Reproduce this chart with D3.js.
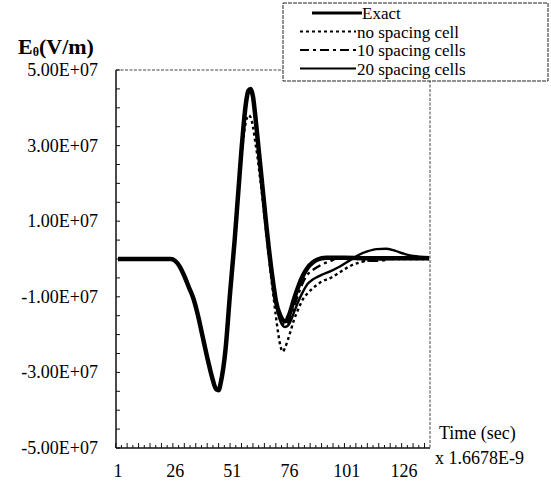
<!DOCTYPE html>
<html><head><meta charset="utf-8">
<script src="https://cdn.jsdelivr.net/npm/d3@7"></script>
<style>body{margin:0;background:#fff}svg{display:block}</style>
</head><body><svg id="c" width="551" height="494"></svg>
<script>
// values in units of 1e7 V/m, time in steps
const exactT = [1,10,20,24,26,28,30,32,34,36,38,40,42,44,45,46,48,50,51,52,53,54,55,56,57,58,59,60,61,62,63,64,65,66,67,68,69,70,72,74,76,78,80,82,84,86,88,92,100,110,120,137];
const exactV = [0,0,0,0,-0.05,-0.2,-0.45,-0.75,-1.05,-1.5,-2.05,-2.6,-3.1,-3.45,-3.47,-3.25,-2.4,-0.9,-0.2,0.5,1.3,2.1,2.9,3.6,4.15,4.45,4.5,4.3,3.8,3.2,2.6,2.0,1.4,0.8,0.25,-0.25,-0.7,-1.1,-1.5,-1.65,-1.45,-1.05,-0.7,-0.42,-0.22,-0.1,-0.02,0.03,0.03,0.02,0.02,0.02];

const noSpT = [1,20,24,28,32,36,40,44,45,46,48,50,52,54,55,56,57,58,59,60,61,62,63,64,65,66,67,68,69,70,71,72,73,74,76,78,80,82,84,86,88,90,94,98,102,106,110,120,137];
const noSpV = [0,0,0,-0.2,-0.75,-1.5,-2.6,-3.45,-3.47,-3.25,-2.4,-0.9,0.5,2.0,2.7,3.3,3.65,3.8,3.75,3.5,3.1,2.7,2.2,1.7,1.15,0.6,0.05,-0.5,-1.0,-1.5,-1.95,-2.3,-2.45,-2.35,-2.0,-1.6,-1.3,-1.05,-0.9,-0.78,-0.68,-0.6,-0.5,-0.35,-0.2,-0.1,-0.05,0.0,0.0];

const sp10T = [1,20,24,28,32,36,40,44,45,46,48,50,52,54,56,58,59,60,62,64,66,68,70,72,74,76,78,80,82,84,86,88,90,94,98,102,106,110,115,120,128,137];
const sp10V = [0,0,0,-0.2,-0.75,-1.5,-2.6,-3.45,-3.47,-3.25,-2.4,-0.9,0.5,2.1,3.6,4.4,4.45,4.25,3.15,1.95,0.75,-0.3,-1.15,-1.6,-1.75,-1.6,-1.25,-0.9,-0.6,-0.4,-0.3,-0.22,-0.15,-0.05,0.05,0.05,0.0,-0.05,-0.05,0.0,0.05,0.05];

const sp20T = [1,20,24,28,32,36,40,44,45,46,48,50,52,54,56,58,59,60,62,64,66,68,70,72,74,76,78,80,82,84,86,88,90,94,98,102,106,110,114,118,122,126,130,137];
const sp20V = [0,0,0,-0.2,-0.75,-1.5,-2.6,-3.45,-3.47,-3.25,-2.4,-0.9,0.5,2.1,3.6,4.4,4.45,4.25,3.15,1.95,0.75,-0.3,-1.15,-1.65,-1.8,-1.7,-1.4,-1.1,-0.85,-0.65,-0.55,-0.48,-0.42,-0.32,-0.2,-0.05,0.1,0.2,0.26,0.27,0.22,0.14,0.08,0.05];

const yTickLabels = ["5.00E+07","3.00E+07","1.00E+07","-1.00E+07","-3.00E+07","-5.00E+07"];
const yTickValues = [5,3,1,-1,-3,-5];
const xTickLabels = ["1","26","51","76","101","126"];
const xTickValues = [1,26,51,76,101,126];
const legendNames = ["Exact","no spacing cell","10 spacing cells","20 spacing cells"];

const svg = d3.select("#c");
const FF = "'Liberation Serif'";
const L=116, R=430, T=70, B=448;
const x = d3.scaleLinear().domain([0,137.4]).range([115.7,430]);
const y = d3.scaleLinear().domain([-5,5]).range([B,T]);

// frame
svg.append("line").attr("x1",L).attr("x2",L).attr("y1",T).attr("y2",B).attr("stroke","#111").attr("stroke-width",1.5);
svg.append("line").attr("x1",L).attr("x2",R).attr("y1",B).attr("y2",B).attr("stroke","#111").attr("stroke-width",1.5);
svg.append("line").attr("x1",L).attr("x2",285).attr("y1",T).attr("y2",T).attr("stroke","#444").attr("stroke-width",1).attr("stroke-dasharray","3,1.5");
svg.append("line").attr("x1",R).attr("x2",R).attr("y1",80).attr("y2",B).attr("stroke","#444").attr("stroke-width",1).attr("stroke-dasharray","3,1.5");

// y minor ticks
d3.range(-5,5.01,0.5).forEach(v=>{
  svg.append("line").attr("x1",L).attr("x2",L+4).attr("y1",y(v)).attr("y2",y(v)).attr("stroke","#111").attr("stroke-width",1);
});
// x minor ticks
d3.range(0,137.5,2.5).forEach((v,i)=>{
  svg.append("line").attr("x1",x(v)).attr("x2",x(v)).attr("y1",B).attr("y2",B-(i%2?3:5)).attr("stroke","#111").attr("stroke-width",1);
});

function txt(sel){ return sel.style("font-family",FF).attr("fill","#000"); }

// y labels
yTickValues.forEach((v,i)=>{
  txt(svg.append("text")).attr("x",98).attr("y",y(v)+6).attr("text-anchor","end")
    .attr("font-size",18).text(yTickLabels[i]);
});
// x labels
xTickValues.forEach((v,i)=>{
  txt(svg.append("text")).attr("x",x(v)).attr("y",477).attr("text-anchor","middle")
    .attr("font-size",18).text(xTickLabels[i]);
});

// axis titles
const yt = txt(svg.append("text")).attr("x",18).attr("y",54).attr("font-weight","bold").attr("font-size",22);
yt.append("tspan").text("E");
yt.append("tspan").attr("font-size",12).attr("dy",2).text("θ");
yt.append("tspan").attr("dy",-2).text("(V/m)");
txt(svg.append("text")).attr("x",439).attr("y",439).attr("font-size",18).text("Time (sec)");
txt(svg.append("text")).attr("x",435).attr("y",464).attr("font-size",18).text("x 1.6678E-9");

// curves
const line = d3.line().x(d=>x(d[0])).y(d=>y(d[1])).curve(d3.curveMonotoneX);
const series = [
  {t:exactT,v:exactV,w:4.5,dash:null},
  {t:noSpT,v:noSpV,w:2.4,dash:"3,3"},
  {t:sp10T,v:sp10V,w:2.4,dash:"9,4,3,4"},
  {t:sp20T,v:sp20V,w:2.4,dash:null}
];
const g = svg.append("g");
[1,2,3,0].forEach(k=>{
  const s=series[k];
  g.append("path").datum(s.t.map((t,i)=>[t,s.v[i]])).attr("d",line).attr("fill","none")
   .attr("stroke","#000").attr("stroke-width",s.w).attr("stroke-dasharray",s.dash).attr("stroke-linejoin","round");
});

// legend
const lg = svg.append("g");
lg.append("rect").attr("x",283).attr("y",3).attr("width",265).attr("height",78).attr("fill","#fff")
  .attr("stroke","#222").attr("stroke-width",1).attr("stroke-dasharray","4,1");
legendNames.forEach((n,i)=>{
  const yy = 13 + i*18.5;
  const s = series[i];
  lg.append("line").attr("x1",i===0?312:300).attr("x2",i===0?362:356).attr("y1",yy).attr("y2",yy)
    .attr("stroke","#000").attr("stroke-width",i===0?3:2).attr("stroke-dasharray",s.dash);
  txt(lg.append("text")).attr("x",i===0?362:357).attr("y",yy+6)
    .attr("font-size",17).text(n);
});
</script></body></html>
